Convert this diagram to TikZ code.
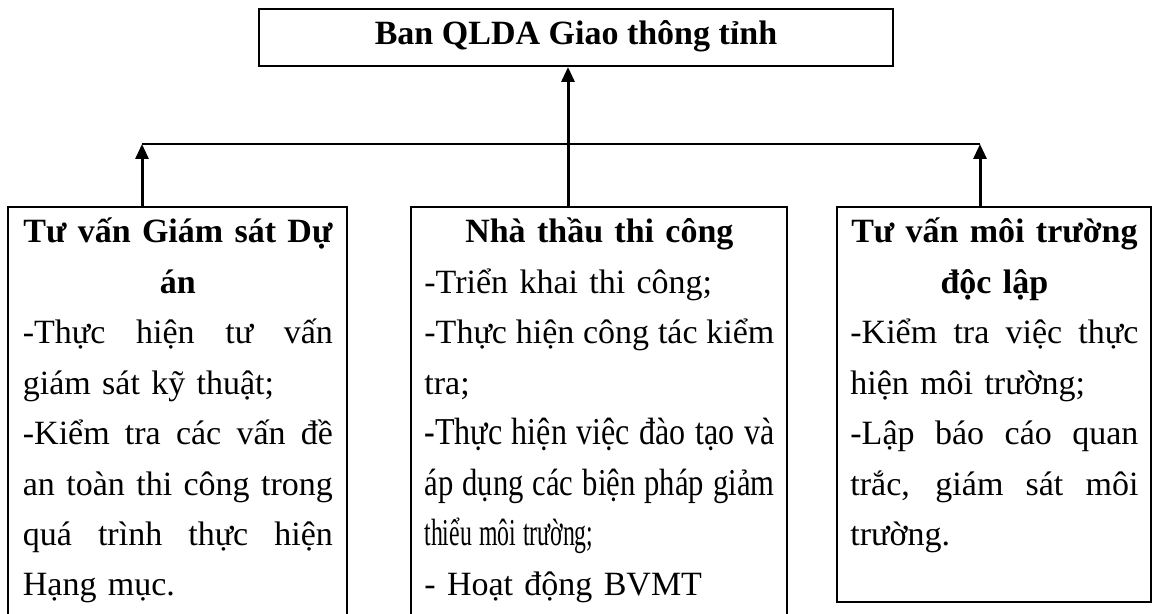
\documentclass[tikz,border=0pt]{standalone}
\usepackage{fontspec}
\usepackage{graphicx}
\setmainfont{Liberation Serif}
\usetikzlibrary{arrows.meta,fit}
\newcommand{\myjline}[1]{\makebox[\linewidth][s]{\spaceskip=0.25em plus 1fil minus 0.08em\relax #1}}
\newcommand{\mycline}[1]{\makebox[\linewidth][c]{\bfseries #1}}
\newcommand{\mycond}[2]{\resizebox{#1}{\height}{\fontsize{19pt}{25.2pt}\selectfont #2}}
\begin{document}
\begin{tikzpicture}[x=0.5pt,y=-0.5pt,
  boxs/.style={draw, line width=1pt, inner sep=0pt},
  txt/.style={anchor=base west, inner sep=0pt, align=left,
    font=\fontsize{17pt}{25.2pt}\selectfont},
  arr/.style={line width=1.5pt, -{Triangle[length=7.5pt,width=6.5pt]}},
  link/.style={line width=1pt}]
\useasboundingbox (0,0) rectangle (1154,614);
\clip (0,0) rectangle (1154,614);
% boxes
\node[boxs, fit={(259,9) (893,66)}] (top) {};
\node[boxs, fit={(8,207) (347,660)}] (lbox) {};
\node[boxs, fit={(411,207) (787,660)}] (mbox) {};
\node[boxs, fit={(837,207) (1151,602)}] (rbox) {};
% texts
\node[anchor=base, inner sep=0pt, font=\bfseries\fontsize{17pt}{20pt}\selectfont] (ttext) at (576,45) {Ban QLDA Giao thông tỉnh};
\node[txt, text width=155pt] (ltext) at (22.5,243) {%
\mycline{Tư vấn Giám sát Dự}\\
\mycline{án}\\
\myjline{-Thực hiện tư vấn}\\
giám sát kỹ thuật;\\
\myjline{-Kiểm tra các vấn đề}\\
\myjline{an toàn thi công trong}\\
\myjline{quá trình thực hiện}\\
Hạng mục.};
\node[txt, text width=175pt] (mtext) at (424,243) {%
\mycline{Nhà thầu thi công}\\
-Triển khai thi công;\\
\myjline{-Thực hiện công tác kiểm}\\
tra;\\
\mycond{175pt}{-Thực hiện việc đào tạo và}\\
\mycond{175pt}{áp dụng các biện pháp giảm}\\
\mycond{84.5pt}{thiểu môi trường;}\\
- Hoạt động BVMT};
\node[txt, text width=144pt] (rtext) at (850,243) {%
\mycline{Tư vấn môi trường}\\
\mycline{độc lập}\\
\myjline{-Kiểm tra việc thực}\\
hiện môi trường;\\
\myjline{-Lập báo cáo quan}\\
\myjline{trắc, giám sát môi}\\
trường.};
% connectors
\coordinate (lj) at (142,144);
\coordinate (rj) at (980,144);
\coordinate (cj) at (568,144);
\draw[link] (lj) -- (rj);
\draw[arr] (lbox.north -| lj) -- (lj);
\draw[arr] (rbox.north -| rj) -- (rj);
\draw[arr] (mbox.north -| cj) -- (top.south -| cj);
\end{tikzpicture}
\end{document}
